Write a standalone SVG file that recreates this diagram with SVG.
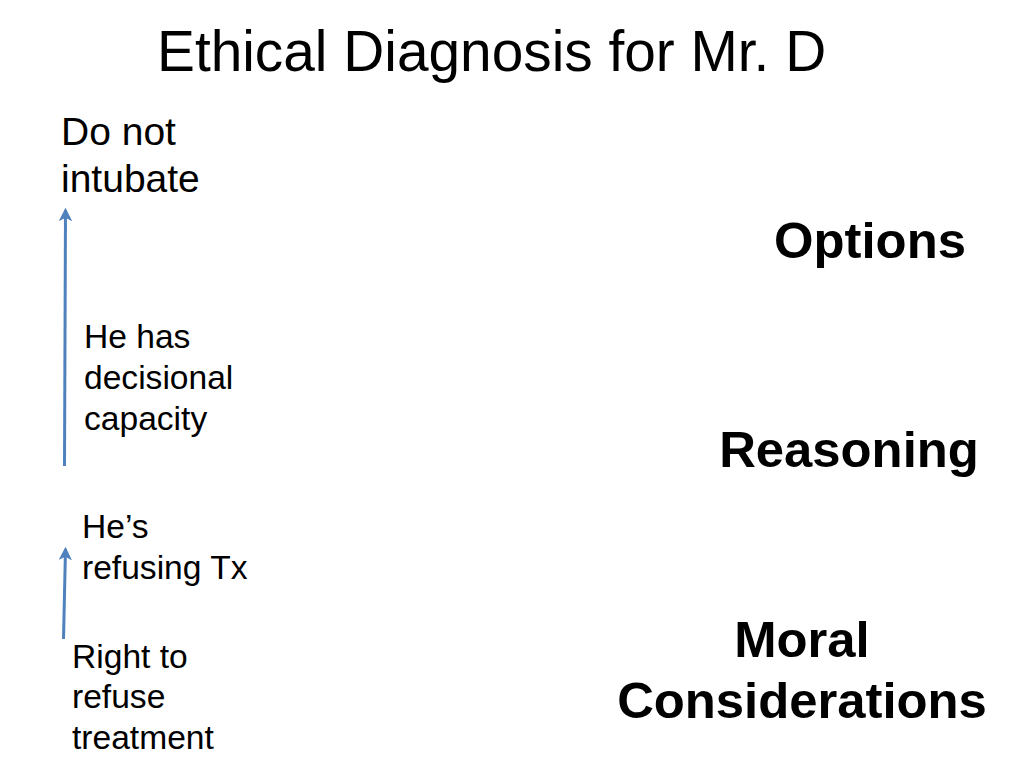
<svg xmlns="http://www.w3.org/2000/svg" width="1024" height="768" viewBox="0 0 1024 768">
<style>
text{font-family:"Liberation Sans",Arial,sans-serif;fill:#000}
.title{font-size:56.8px}
.big{font-size:39px}
.small{font-size:33.6px}
.head{font-size:50.8px;font-weight:bold}
.conn{stroke:#4F81BD;stroke-width:3;fill:none}
</style>
<defs>
<marker id="ah" viewBox="0 0 12 12" refX="10" refY="6" markerWidth="4.5" markerHeight="4.5" orient="auto" markerUnits="strokeWidth">
<path d="M0,0 L12,6 L0,12 L3,6 Z" fill="#4F81BD"/>
</marker>
</defs>
<rect width="1024" height="768" fill="#fff"/>
<g id="title"><text class="title" x="157" y="71">Ethical Diagnosis for Mr. D</text></g>
<g id="connectors">
<line class="conn" x1="64.5" y1="466" x2="65.5" y2="210" marker-end="url(#ah)"/>
<line class="conn" x1="63.5" y1="639" x2="65.5" y2="549" marker-end="url(#ah)"/>
</g>
<g id="do-not-intubate"><text class="big" x="61" y="145">Do not</text><text class="big" x="61" y="192">intubate</text></g>
<g id="decisional-capacity"><text class="small" x="84" y="348">He has</text><text class="small" x="84" y="389">decisional</text><text class="small" x="84" y="430">capacity</text></g>
<g id="refusing"><text class="small" x="82" y="538">He’s</text><text class="small" x="82" y="579">refusing Tx</text></g>
<g id="right-to-refuse"><text class="small" x="72" y="668">Right to</text><text class="small" x="72" y="708">refuse</text><text class="small" x="72" y="749">treatment</text></g>
<g id="options"><text class="head" x="870" y="258" text-anchor="middle">Options</text></g>
<g id="reasoning"><text class="head" x="849" y="467" text-anchor="middle">Reasoning</text></g>
<g id="moral"><text class="head" x="802" y="657" text-anchor="middle">Moral</text><text class="head" x="802" y="718" text-anchor="middle">Considerations</text></g>
</svg>
